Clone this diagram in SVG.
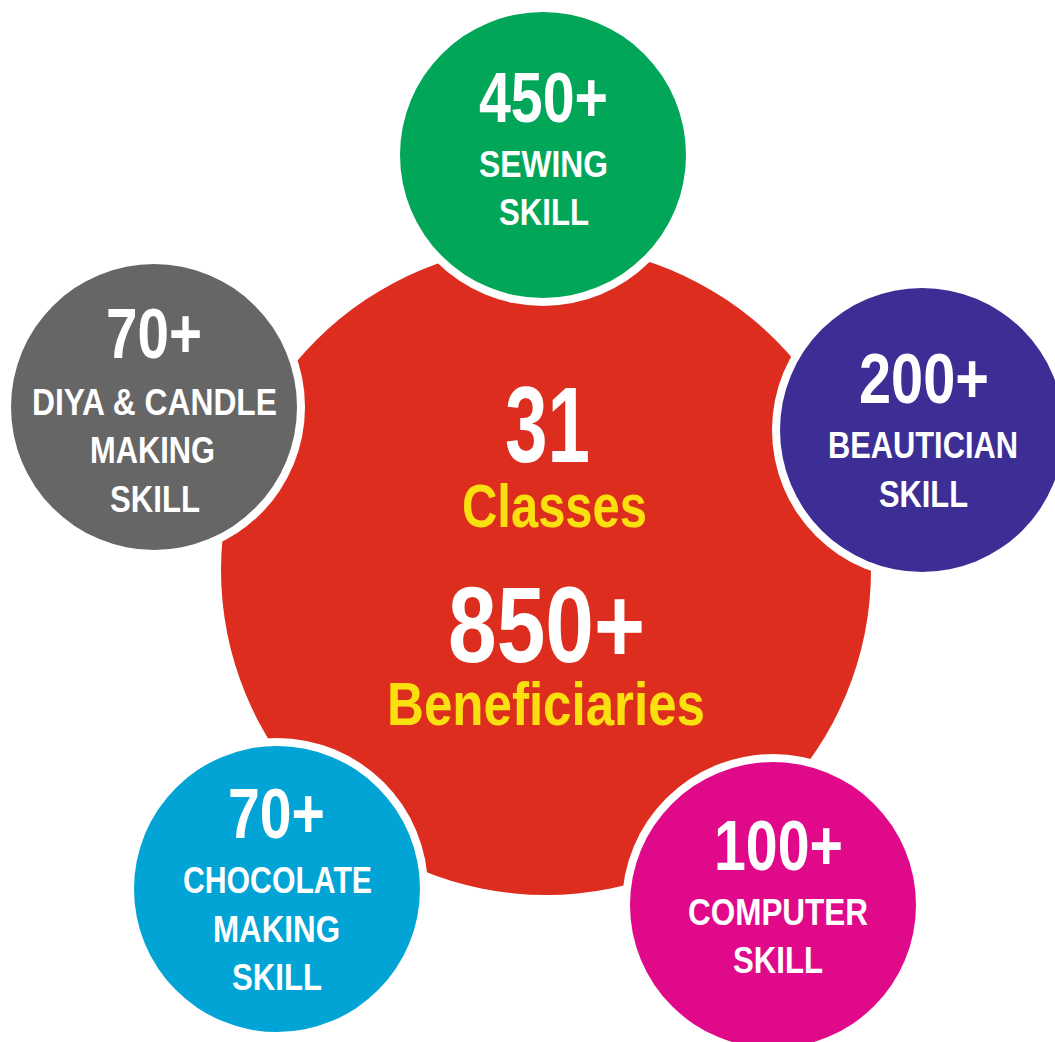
<svg xmlns="http://www.w3.org/2000/svg" width="1055" height="1042" viewBox="0 0 1055 1042">
<style>
text{font-family:"Liberation Sans",Arial,sans-serif;font-weight:bold;text-anchor:middle}
.w{fill:#fff}
.y{fill:#FBE00F}
.num{font-size:70px}
.lbl{font-size:37px}
.ring{fill:#fff}
</style>
<rect width="1055" height="1042" fill="#fff"/>
<g id="center">
<circle cx="546" cy="570" r="325" fill="#DC2D1E"/>
</g>
<g id="connectors"></g>
<g id="sewing">
<circle class="ring" cx="543" cy="155" r="151"/>
<circle cx="543" cy="155" r="143" fill="#02A659"/>
<text class="w num" x="543.5" y="122" textLength="129" lengthAdjust="spacingAndGlyphs">450+</text>
<text class="w lbl" x="543.5" y="177" textLength="129" lengthAdjust="spacingAndGlyphs">SEWING</text>
<text class="w lbl" x="544" y="225" textLength="90" lengthAdjust="spacingAndGlyphs">SKILL</text>
</g>
<g id="beautician">
<circle class="ring" cx="922" cy="430" r="150"/>
<circle cx="922" cy="430" r="142" fill="#3D2E96"/>
<text class="w num" x="924" y="403" textLength="130" lengthAdjust="spacingAndGlyphs">200+</text>
<text class="w lbl" x="923" y="458" textLength="190" lengthAdjust="spacingAndGlyphs">BEAUTICIAN</text>
<text class="w lbl" x="923.5" y="507" textLength="89" lengthAdjust="spacingAndGlyphs">SKILL</text>
</g>
<g id="diya">
<circle class="ring" cx="154" cy="407" r="151"/>
<circle cx="154" cy="407" r="143" fill="#666666"/>
<text class="w num" x="154" y="358" textLength="96" lengthAdjust="spacingAndGlyphs">70+</text>
<text class="w lbl" x="154.5" y="415" textLength="245" lengthAdjust="spacingAndGlyphs">DIYA &amp; CANDLE</text>
<text class="w lbl" x="152.5" y="463" textLength="125" lengthAdjust="spacingAndGlyphs">MAKING</text>
<text class="w lbl" x="155" y="512" textLength="90" lengthAdjust="spacingAndGlyphs">SKILL</text>
</g>
<g id="chocolate">
<circle class="ring" cx="277" cy="889" r="151"/>
<circle cx="277" cy="889" r="143" fill="#02A4D5"/>
<text class="w num" x="276.5" y="838" textLength="97" lengthAdjust="spacingAndGlyphs">70+</text>
<text class="w lbl" x="277.5" y="893" textLength="189" lengthAdjust="spacingAndGlyphs">CHOCOLATE</text>
<text class="w lbl" x="276.5" y="942" textLength="127" lengthAdjust="spacingAndGlyphs">MAKING</text>
<text class="w lbl" x="277" y="990" textLength="90" lengthAdjust="spacingAndGlyphs">SKILL</text>
</g>
<g id="computer">
<circle class="ring" cx="773" cy="905" r="151"/>
<circle cx="773" cy="905" r="143" fill="#E0098A"/>
<text class="w num" x="778.5" y="870" textLength="129" lengthAdjust="spacingAndGlyphs">100+</text>
<text class="w lbl" x="778" y="925" textLength="180" lengthAdjust="spacingAndGlyphs">COMPUTER</text>
<text class="w lbl" x="778" y="973" textLength="90" lengthAdjust="spacingAndGlyphs">SKILL</text>
</g>
<g id="center-text">
<text class="w" x="547.5" y="462" font-size="108" textLength="85" lengthAdjust="spacingAndGlyphs">31</text>
<text class="y" x="554.5" y="527" font-size="62" textLength="185" lengthAdjust="spacingAndGlyphs">Classes</text>
<text class="w" x="546.5" y="662" font-size="108" textLength="197" lengthAdjust="spacingAndGlyphs">850+</text>
<text class="y" x="546" y="725" font-size="62" textLength="318" lengthAdjust="spacingAndGlyphs">Beneficiaries</text>
</g>
</svg>
